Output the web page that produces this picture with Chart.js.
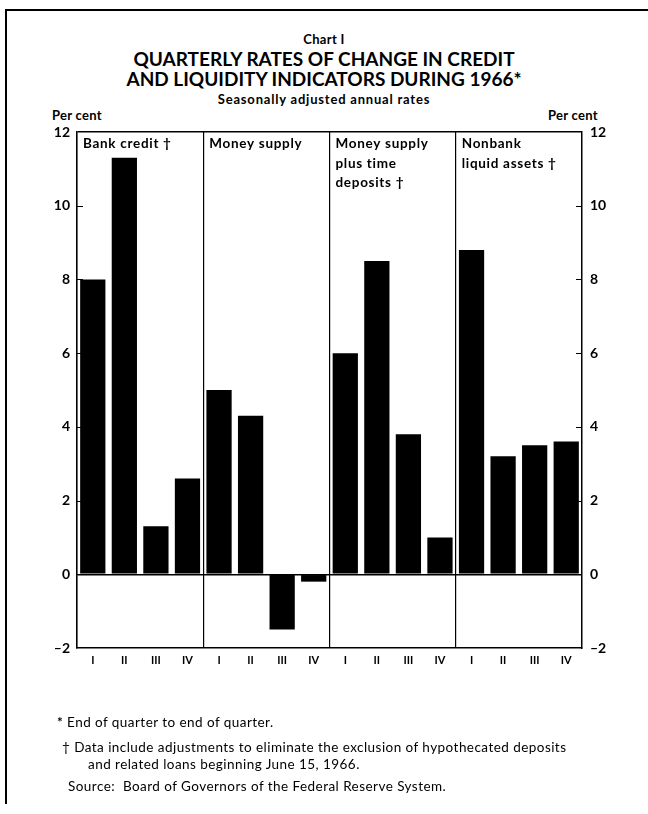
<!DOCTYPE html>
<html>
<head>
<meta charset="utf-8">
<script src="https://cdn.jsdelivr.net/npm/chart.js@4"></script>
<style>
  body { margin: 0; background: #fff; }
  #page { position: relative; width: 648px; height: 814px; overflow: hidden; font-family: Lato, sans-serif; color: #000; }
  .frameTop { position: absolute; left: 5px; top: 9px; width: 643px; height: 2px; background: #000; }
  .frameLeft { position: absolute; left: 5px; top: 9px; width: 2px; height: 795px; background: #000; }
  .c { position: absolute; left: 0; width: 648px; text-align: center; font-weight: bold; white-space: nowrap; }
  .t { position: absolute; font-weight: bold; white-space: nowrap; font-size: 13px; letter-spacing: 0.3px; }
  .fn { position: absolute; font-size: 13.5px; letter-spacing: 0.45px; white-space: nowrap; }
  canvas { position: absolute; left: 0; top: 0; }
</style>
</head>
<body>
<div id="page">
  <div class="frameTop"></div>
  <div class="frameLeft"></div>
  <div class="c" style="top:31px;font-size:13px;letter-spacing:0.3px">Chart I</div>
  <div class="c" style="top:48px;font-size:19px;line-height:21px">QUARTERLY RATES OF CHANGE IN CREDIT</div>
  <div class="c" style="top:68px;font-size:19px;line-height:21px">AND LIQUIDITY INDICATORS DURING 1966*</div>
  <div class="c" style="top:91px;font-size:13px;letter-spacing:0.8px">Seasonally adjusted annual rates</div>
  <div class="t" style="left:52px;top:107px">Per cent</div>
  <div class="t" style="left:548px;top:107px">Per cent</div>

  <canvas id="chart" width="648" height="814"></canvas>

  <div class="fn" style="left:57px;top:714px"><b>*</b> End of quarter to end of quarter.</div>
  <div class="fn" style="left:62px;top:739px">† Data include adjustments to eliminate the exclusion of hypothecated deposits</div>
  <div class="fn" style="left:88px;top:756px">and related loans beginning June 15, 1966.</div>
  <div class="fn" style="left:68px;top:778px">Source:&nbsp; Board of Governors of the Federal Reserve System.</div>
</div>

<script>
const quarters = ['I', 'II', 'III', 'IV']
const panelNames = [
  ['Bank credit †'],
  ['Money supply'],
  ['Money supply', 'plus time', 'deposits †'],
  ['Nonbank', 'liquid assets †']
]
const bankCredit = [8.0, 11.3, 1.3, 2.6]
const moneySupply = [5.0, 4.3, -1.5, -0.2]
const moneyPlusTime = [6.0, 8.5, 3.8, 1.0]
const nonbankLiquid = [8.8, 3.2, 3.5, 3.6]
const yTicks = [-2, 0, 2, 4, 6, 8, 10, 12]

const labels = [].concat(quarters, quarters, quarters, quarters)
const values = [].concat(bankCredit, moneySupply, moneyPlusTime, nonbankLiquid)

const ink = '#000'
const tickFont = { family: 'Lato, sans-serif', size: 14, weight: 'bold' }
const fmt = v => v < 0 ? '\u2013' + Math.abs(v) : String(v)

// short tick marks pointing into the plot, plus the panel captions
const extras = {
  id: 'extras',
  afterDraw(chart) {
    const { ctx, chartArea: a, scales } = chart
    const y = scales.y
    const x = scales.x
    ctx.save()
    ctx.strokeStyle = ink
    ctx.lineWidth = 1.2
    yTicks.forEach(v => {
      if (v === yTicks[0] || v === yTicks[yTicks.length - 1]) return
      const py = Math.round(y.getPixelForValue(v)) + 0.5
      ctx.beginPath()
      ctx.moveTo(a.left, py); ctx.lineTo(a.left + 6, py)
      ctx.moveTo(a.right, py); ctx.lineTo(a.right - 6, py)
      ctx.stroke()
    })
    const half = (x.getPixelForValue(1) - x.getPixelForValue(0)) / 2
    ctx.fillStyle = ink
    ctx.font = 'bold 13.5px Lato, sans-serif'
    ctx.letterSpacing = '0.7px'
    ctx.textBaseline = 'middle'
    panelNames.forEach((lines, p) => {
      const left = x.getPixelForValue(p * 4) - half
      lines.forEach((s, i) => ctx.fillText(s, left + 6, a.top + 12 + i * 19.5))
    })
    ctx.restore()
  }
}

new Chart(document.getElementById('chart'), {
  type: 'bar',
  data: {
    labels: labels,
    datasets: [{
      data: values,
      backgroundColor: ink,
      borderWidth: 0,
      barPercentage: 0.8,
      categoryPercentage: 1.0
    }]
  },
  options: {
    responsive: false,
    animation: false,
    layout: { padding: { left: 37, right: 26, top: 132, bottom: 136 } },
    plugins: { legend: { display: false }, tooltip: { enabled: false } },
    scales: {
      x: {
        offset: true,
        grid: {
          offset: true,
          drawTicks: false,
          lineWidth: 1.2,
          color: c => (c.index !== undefined && c.index % 4 === 0) ? ink : 'transparent'
        },
        border: { display: true, color: ink, width: 1.5 },
        ticks: {
          autoSkip: false, maxRotation: 0, padding: 6, color: ink,
          font: { family: 'Lato, sans-serif', size: 11, weight: 'bold' }
        },
        afterFit: s => { s.height = 30 }
      },
      y: {
        position: 'left',
        min: -2, max: 12,
        afterBuildTicks: s => { s.ticks = yTicks.map(v => ({ value: v })) },
        grid: {
          drawTicks: false,
          lineWidth: 1.5,
          color: c => (c.tick && (c.tick.value === 0 || c.tick.value === 12)) ? ink : 'transparent'
        },
        border: { display: true, color: ink, width: 1.5 },
        ticks: { padding: 7, color: ink, font: tickFont, callback: fmt },
        afterFit: s => { s.width = 40 }
      },
      y2: {
        position: 'right',
        min: -2, max: 12,
        afterBuildTicks: s => { s.ticks = yTicks.map(v => ({ value: v })) },
        grid: { drawOnChartArea: false, drawTicks: false },
        border: { display: true, color: ink, width: 1.5 },
        ticks: { padding: 8, color: ink, font: tickFont, callback: fmt },
        afterFit: s => { s.width = 40 }
      }
    }
  },
  plugins: [extras]
})
</script>
</body>
</html>
